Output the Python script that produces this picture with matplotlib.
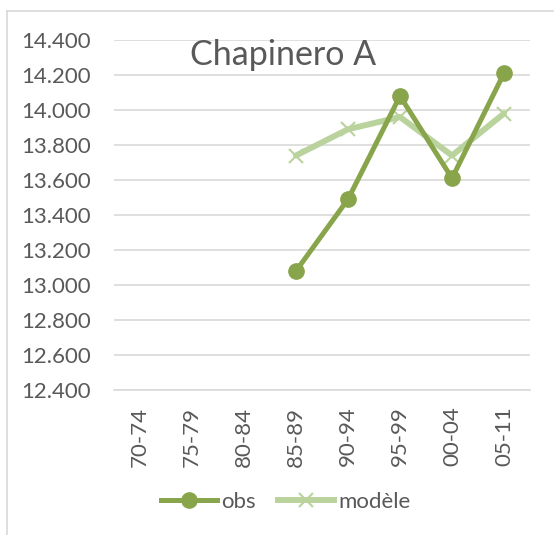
import numpy as np
import matplotlib
matplotlib.use("Agg")
from matplotlib import pyplot as plt
from matplotlib.lines import Line2D

# périodes et températures (°C)
periodes = ["70-74", "75-79", "80-84", "85-89", "90-94", "95-99", "00-04", "05-11"]
obs = [np.nan, np.nan, np.nan, 13.08, 13.49, 14.08, 13.61, 14.21]
modele = [np.nan, np.nan, np.nan, 13.74, 13.89, 13.96, 13.74, 13.98]
yticks = [12.4, 12.6, 12.8, 13.0, 13.2, 13.4, 13.6, 13.8, 14.0, 14.2, 14.4]

gris = "#595959"
vert_obs = "#88a54c"
vert_mod = "#bad39c"

plt.rcParams["font.family"] = ["Lato", "DejaVu Sans"]

W, H = 554, 535
fig = plt.figure(figsize=(W / 100, H / 100), dpi=100)
ax = fig.add_axes([114 / W, 1 - 390 / H, (530 - 114) / W, (390 - 40) / H])

x = np.arange(len(periodes))
ax.plot(x, obs, color=vert_obs, lw=3.6, marker="o", ms=11,
        solid_capstyle="round", zorder=3, label="obs")
ax.plot(x, modele, color=vert_mod, lw=4.3, marker="x", ms=10, mew=1.5,
        solid_capstyle="round", zorder=2, label="modèle")

ax.set_xlim(-0.5, len(periodes) - 0.5)
ax.set_ylim(12.4, 14.4)
ax.set_yticks(yticks)
ax.set_yticklabels([f"{v:.3f}" for v in yticks])
ax.set_xticks(x)
ax.set_xticklabels(periodes, rotation=90)
ax.tick_params(length=0, labelsize=16, labelcolor=gris)
ax.tick_params(axis="y", pad=16.5)
ax.tick_params(axis="x", pad=12)
ax.grid(axis="y", color="#d9d9d9", lw=1.2)
ax.set_axisbelow(True)
for s in ["left", "right", "top"]:
    ax.spines[s].set_visible(False)
ax.spines["bottom"].set_color("#d9d9d9")
ax.spines["bottom"].set_linewidth(1.2)

ax.text(0.406, 0.957, "Chapinero A", transform=ax.transAxes, ha="center",
        va="center", fontsize=24.5, color=gris)

handles = [
    Line2D([], [], color=vert_obs, lw=3.6, marker="o", ms=11),
    Line2D([], [], color=vert_mod, lw=4.3, marker="x", ms=10, mew=1.5),
]
fig.legend(handles, ["obs", "modèle"], loc="center", ncol=2,
           bbox_to_anchor=(286 / W, 1 - 502 / H), frameon=False,
           fontsize=16, labelcolor=gris, handlelength=2.5,
           handletextpad=0.2, columnspacing=1.0)

# cadre du graphique
fig.add_artist(Line2D([7 / W, 7 / W], [0, 1 - 11 / H], color="#d9d9d9", lw=1.2))
fig.add_artist(Line2D([7 / W, 1], [1 - 11 / H, 1 - 11 / H], color="#d9d9d9", lw=1.2))

fig.savefig("out.png", dpi=100, facecolor="white")
